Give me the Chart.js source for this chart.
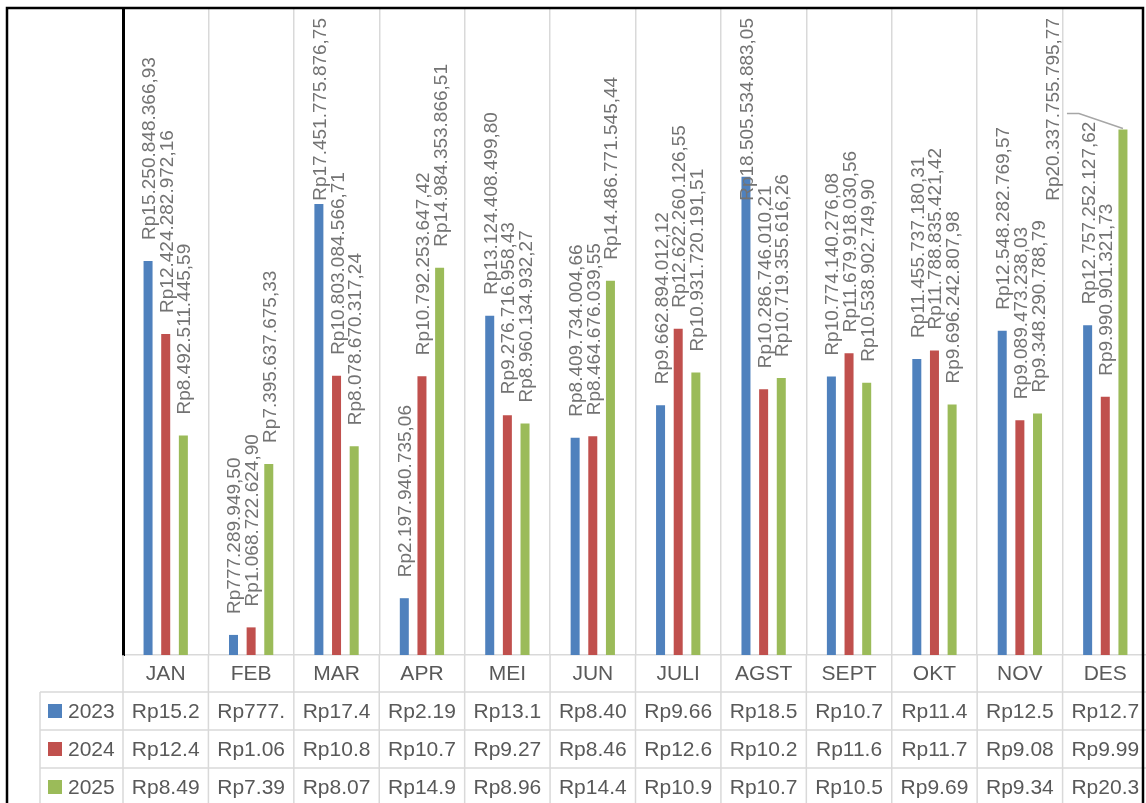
<!DOCTYPE html>
<html>
<head>
<meta charset="utf-8">
<script src="https://cdn.jsdelivr.net/npm/chart.js@4"></script>
<style>
  html, body { margin: 0; padding: 0; overflow: hidden; background: #fff; }
  canvas { display: block; }
</style>
</head>
<body>
<canvas id="chart" width="1148" height="803"></canvas>
<script>
const months = ['JAN', 'FEB', 'MAR', 'APR', 'MEI', 'JUN', 'JULI', 'AGST', 'SEPT', 'OKT', 'NOV', 'DES'];
const years = ['2023', '2024', '2025'];
const values2023 = [15250848366.93, 777289949.50, 17451775876.75, 2197940735.06, 13124408499.80, 8409734004.66,
                    9662894012.12, 18505534883.05, 10774140276.08, 11455737180.31, 12548282769.57, 12757252127.62];
const values2024 = [12424282972.16, 1068722624.90, 10803084566.71, 10792253647.42, 9276716958.43, 8464676039.55,
                    12622260126.55, 10286746010.21, 11679918030.56, 11788835421.42, 9089473238.03, 9990901321.73];
const values2025 = [8492511445.59, 7395637675.33, 8078670317.24, 14984353866.51, 8960134932.27, 14486771545.44,
                    10931720191.51, 10719355616.26, 10538902749.90, 9696242807.98, 9348290788.79, 20337755795.77];
const colors = ['#4F81BD', '#C0504D', '#9BBB59'];
const yMax = 25000000000;

const fontFamily = '"Liberation Sans", Arial, sans-serif';
Chart.defaults.font.family = fontFamily;

function rupiah(v) {
  const parts = v.toFixed(2).split('.');
  const intPart = parts[0].replace(/\B(?=(\d{3})+(?!\d))/g, '.');
  return 'Rp' + intPart + ',' + parts[1];
}

// labels above bars, rotated like the excel ones
const barLabels = {
  id: 'barLabels',
  afterDatasetsDraw(chart, args, opts) {
    const ctx = chart.ctx;
    const area = chart.chartArea;
    ctx.save();
    ctx.font = opts.font;
    ctx.fillStyle = opts.color;
    chart.data.datasets.forEach(function(ds, i) {
      const meta = chart.getDatasetMeta(i);
      meta.data.forEach(function(bar, j) {
        const text = rupiah(ds.data[j]);
        const w = ctx.measureText(text).width;
        let start = bar.y - opts.gap;
        if (start - w < area.top + opts.topPad) start = area.top + opts.topPad + w;
        let dx = 0;
        const moved = opts.moved.find(function(m) { return m.ds === i && m.index === j; });
        if (moved) {
          dx = moved.dx;
          ctx.save();
          ctx.strokeStyle = '#a6a6a6';
          ctx.lineWidth = 1.5;
          ctx.beginPath();
          ctx.moveTo(bar.x + dx + 15, bar.y - 16);
          ctx.lineTo(bar.x - 44, bar.y - 16);
          ctx.lineTo(bar.x, bar.y - 1);
          ctx.stroke();
          ctx.restore();
        }
        ctx.save();
        ctx.translate(bar.x + dx, start);
        ctx.rotate(-Math.PI / 2);
        ctx.textAlign = 'left';
        ctx.textBaseline = 'alphabetic';
        ctx.fillText(text, 0, 7);
        ctx.restore();
      });
    });
    ctx.restore();
  }
};

const dataTable = {
  id: 'dataTable',
  afterDraw(chart, args, opts) {
    const ctx = chart.ctx;
    const x = chart.scales.x;
    const area = chart.chartArea;
    const step = x.getPixelForValue(1) - x.getPixelForValue(0);
    const edges = [];
    for (let i = 0; i <= months.length; i++) edges.push(x.getPixelForValue(0) - step / 2 + i * step);
    const rowTop = x.bottom;
    const rowH = opts.rowHeight;
    const left = opts.legendLeft;
    const bottom = chart.height;

    ctx.save();
    ctx.strokeStyle = '#d9d9d9';
    ctx.lineWidth = 1.5;
    ctx.beginPath();
    edges.forEach(function(e) { ctx.moveTo(e, area.bottom); ctx.lineTo(e, bottom); });
    ctx.moveTo(left, rowTop);
    ctx.lineTo(left, bottom);
    for (let r = 0; r <= years.length; r++) {
      const y = rowTop + r * rowH;
      ctx.moveTo(left, y);
      ctx.lineTo(edges[edges.length - 1], y);
    }
    ctx.stroke();

    ctx.font = opts.font;
    ctx.textBaseline = 'middle';
    chart.data.datasets.forEach(function(ds, r) {
      const cy = rowTop + r * rowH + rowH / 2;
      ctx.fillStyle = ds.backgroundColor;
      ctx.fillRect(left + 8, cy - 7, 14, 14);
      ctx.fillStyle = '#595959';
      ctx.textAlign = 'left';
      ctx.fillText(ds.label, left + 28, cy + 1);
      ctx.textAlign = 'center';
      ds.data.forEach(function(v, j) {
        ctx.fillText(rupiah(v).slice(0, 6), x.getPixelForValue(j), cy + 1);
      });
    });
    ctx.restore();
  }
};

const frame = {
  id: 'frame',
  afterDraw(chart) {
    const ctx = chart.ctx;
    ctx.save();
    ctx.strokeStyle = '#000';
    ctx.lineWidth = 2.5;
    ctx.beginPath();
    ctx.moveTo(7, chart.height);
    ctx.lineTo(7, 8);
    ctx.lineTo(1143, 8);
    ctx.lineTo(1143, chart.height);
    ctx.stroke();
    ctx.restore();
  }
};

new Chart(document.getElementById('chart'), {
  type: 'bar',
  data: {
    labels: months,
    datasets: [
      { label: years[0], data: values2023, backgroundColor: colors[0] },
      { label: years[1], data: values2024, backgroundColor: colors[1] },
      { label: years[2], data: values2025, backgroundColor: colors[2] }
    ]
  },
  options: {
    responsive: false,
    animation: false,
    datasets: { bar: { categoryPercentage: 0.62, barPercentage: 0.51, borderWidth: 0 } },
    layout: { padding: { top: 9, bottom: 111, left: 0, right: 0 } },
    scales: {
      x: {
        grid: { color: '#d9d9d9', lineWidth: 1.5, drawTicks: false, offset: true },
        border: { display: true, color: '#d9d9d9', width: 1.5 },
        ticks: { color: '#595959', font: { size: 21 }, padding: 7, maxRotation: 0, autoSkip: false },
        afterFit: function(scale) { scale.height = 37; }
      },
      y: {
        min: 0,
        max: yMax,
        ticks: { display: false },
        grid: { display: false, drawTicks: false },
        border: { display: true, color: '#000', width: 3 },
        afterFit: function(scale) { scale.width = 123; }
      }
    },
    plugins: {
      legend: { display: false },
      tooltip: { enabled: false },
      barLabels: { font: '19px ' + fontFamily, color: '#737373', gap: 21, topPad: 9,
                   moved: [{ ds: 2, index: 11, dx: -71 }] },
      dataTable: { rowHeight: 38, legendLeft: 40, font: '21px ' + fontFamily }
    }
  },
  plugins: [barLabels, dataTable, frame]
});
</script>
</body>
</html>
